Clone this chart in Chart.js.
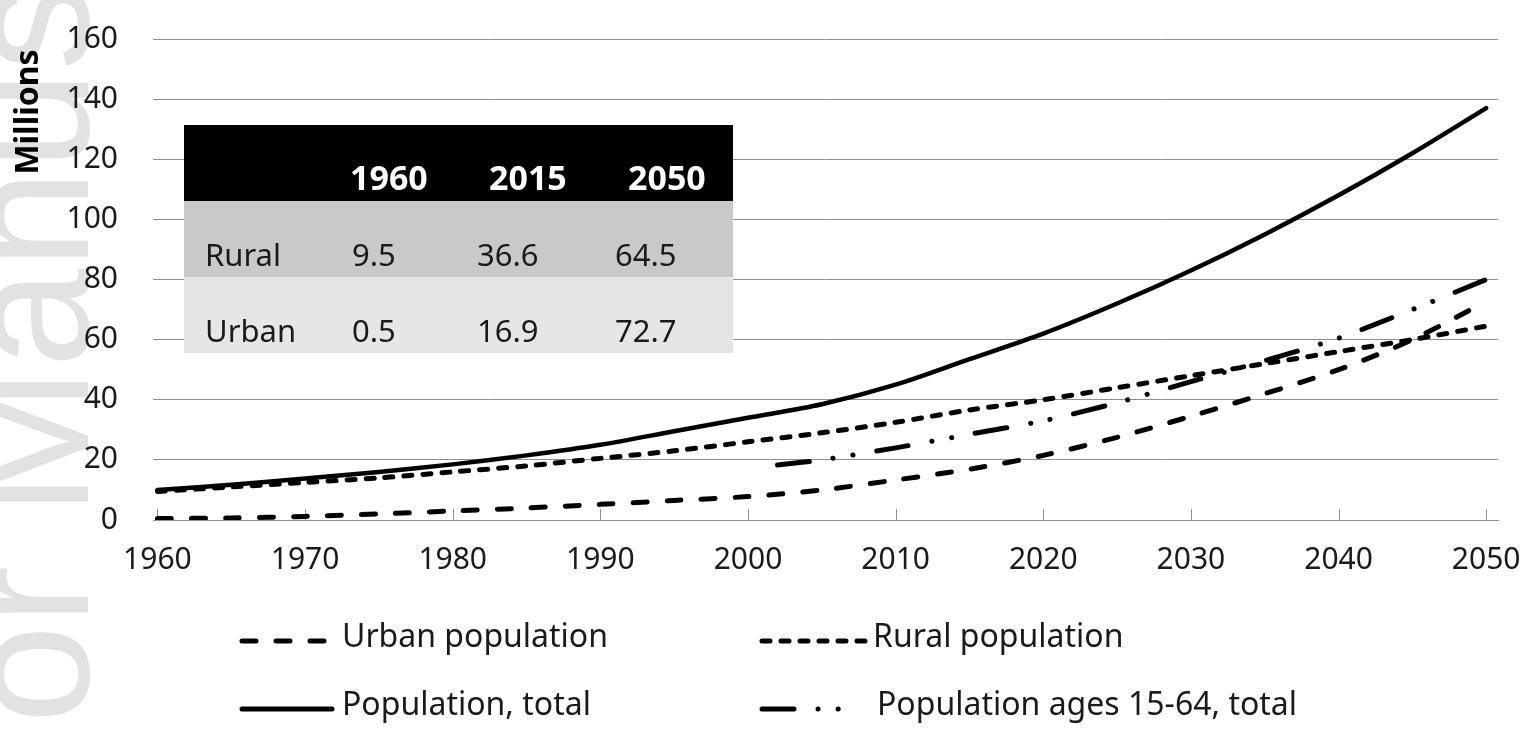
<!DOCTYPE html>
<html>
<head>
<meta charset="utf-8">
<script src="https://cdn.jsdelivr.net/npm/chart.js@4.4.1/dist/chart.umd.min.js"></script>
<style>
    body { margin: 0; background: #fff; }
    #wrap { position: relative; width: 1535px; height: 731px; overflow: hidden; }
</style>
</head>
<body>
<div id="wrap">
    <canvas id="popChart" width="1535" height="731"></canvas>
</div>
<script>
// values (millions)
const years = [1960, 1965, 1970, 1975, 1980, 1985, 1990, 1995, 2000, 2005, 2010, 2015, 2020, 2025, 2030, 2035, 2040, 2045, 2050];
const urbanPop = [0.5, 0.7, 1.2, 2.0, 3.0, 4.0, 5.2, 6.5, 7.8, 10.0, 13.3, 16.9, 21.5, 27.5, 34.5, 42.0, 50.0, 60.0, 72.7];
const ruralPop = [9.5, 11.0, 12.5, 14.0, 16.0, 18.0, 20.5, 23.0, 26.0, 29.0, 32.5, 36.6, 40.0, 44.0, 48.0, 52.0, 56.0, 60.0, 64.5];
const totalPop = [10.0, 11.7, 13.8, 16.0, 18.5, 21.5, 25.0, 29.5, 34.0, 38.5, 45.0, 53.5, 62.0, 72.0, 83.0, 95.0, 108.0, 122.0, 137.0];
const workYears = [2002, 2005, 2010, 2015, 2020, 2025, 2030, 2035, 2040, 2045, 2050];
const workingPop = [18.3, 20.0, 24.0, 28.5, 33.0, 39.0, 46.0, 53.0, 60.5, 70.0, 80.0];

const xTicks = [1960, 1970, 1980, 1990, 2000, 2010, 2020, 2030, 2040, 2050];
const yTicks = [0, 20, 40, 60, 80, 100, 120, 140, 160];

const tableYears = ['1960', '2015', '2050'];
const tableRowNames = ['Rural', 'Urban'];
const tableRural = ['9.5', '36.6', '64.5'];
const tableUrban = ['0.5', '16.9', '72.7'];

const seriesNames = ['Urban population', 'Rural population', 'Population, total', 'Population ages 15-64, total'];

const FONT = '"Noto Sans", sans-serif';
const GRID = '#8f8f8f';
const TEXT = '#1a1a1a';

function pts(xs, ys) {
    return xs.map(function(x, i) { return { x: x, y: ys[i] }; });
}

const dashStyles = [[14, 20], [8, 11], [], [32, 24, 0.1, 20, 0.1, 24]];
const widths = [5, 5, 4.5, 5];

function drawTable(ctx) {
    const left = 184, top = 125, w = 549, rowH = 76;
    const fills = ['#000000', '#c9c9c9', '#e6e6e6'];
    fills.forEach(function(f, i) {
        ctx.fillStyle = f;
        ctx.fillRect(left, top + i * rowH, w, rowH);
    });
    ctx.textBaseline = 'alphabetic';
    ctx.textAlign = 'left';
    // header
    ctx.fillStyle = '#fff';
    ctx.font = 'bold 34px ' + FONT;
    const headX = [350, 489, 628];
    tableYears.forEach(function(t, i) { ctx.fillText(t, headX[i], top + 65); });
    // body
    ctx.fillStyle = TEXT;
    ctx.font = '31px ' + FONT;
    const valX = [352, 477, 615];
    [tableRural, tableUrban].forEach(function(row, r) {
        const base = top + (r + 1) * rowH + 65;
        ctx.fillText(tableRowNames[r], 205, base);
        row.forEach(function(v, i) { ctx.fillText(v, valX[i], base); });
    });
}

const extras = {
    id: 'extras',
    beforeDraw(chart) {
        const ctx = chart.ctx;
        ctx.save();
        ctx.fillStyle = '#e2e2e2';
        ctx.font = '178px "Liberation Sans", sans-serif';
        ctx.translate(88, 1090);
        ctx.rotate(-Math.PI / 2);
        ctx.fillText('Author Manuscript', 0, 0);
        ctx.restore();
    },
    beforeDatasetsDraw(chart) {
        const ctx = chart.ctx, xs = chart.scales.x, a = chart.chartArea;
        ctx.save();
        ctx.strokeStyle = GRID;
        ctx.lineWidth = 1;
        xTicks.forEach(function(t) {
            const px = Math.round(xs.getPixelForValue(t)) + 0.5;
            ctx.beginPath();
            ctx.moveTo(px, a.bottom);
            ctx.lineTo(px, a.bottom - 11);
            ctx.stroke();
        });
        ctx.restore();
    },
    afterDraw(chart) {
        const ctx = chart.ctx;
        ctx.save();
        drawTable(ctx);
        ctx.restore();

        // axis title
        ctx.save();
        ctx.fillStyle = '#000';
        ctx.font = 'bold 32px ' + FONT;
        ctx.textAlign = 'center';
        ctx.textBaseline = 'middle';
        ctx.translate(29, 112);
        ctx.rotate(-Math.PI / 2);
        ctx.fillText('Millions', 0, 0);
        ctx.restore();

        // legend
        const lineX = [242, 762, 242, 762];
        const lens = [90, 108, 90, 82];
        const textX = [342, 873, 342, 877];
        const baseY = [647, 647, 715, 715];
        ctx.save();
        ctx.font = '32px ' + FONT;
        ctx.textBaseline = 'alphabetic';
        ctx.fillStyle = TEXT;
        seriesNames.forEach(function(name, i) {
            const ly = baseY[i] - 6;
            ctx.strokeStyle = '#000';
            ctx.lineWidth = 5;
            ctx.lineCap = 'round';
            ctx.setLineDash(dashStyles[i]);
            ctx.beginPath();
            ctx.moveTo(lineX[i], ly);
            ctx.lineTo(lineX[i] + lens[i], ly);
            ctx.stroke();
            ctx.setLineDash([]);
            ctx.fillText(name, textX[i], baseY[i]);
        });
        ctx.restore();
    }
};

function noPad(scale) {
    scale.paddingTop = 0;
    scale.paddingBottom = 0;
    scale.paddingLeft = 0;
    scale.paddingRight = 0;
}

const ctx = document.getElementById('popChart').getContext('2d');
new Chart(ctx, {
    type: 'line',
    data: {
        datasets: [
            { label: seriesNames[0], data: pts(years, urbanPop) },
            { label: seriesNames[1], data: pts(years, ruralPop) },
            { label: seriesNames[2], data: pts(years, totalPop) },
            { label: seriesNames[3], data: pts(workYears, workingPop) }
        ].map(function(d, i) {
            return Object.assign(d, {
                borderColor: '#000',
                borderWidth: widths[i],
                borderDash: dashStyles[i],
                borderCapStyle: 'round',
                pointRadius: 0,
                tension: 0.3,
                fill: false
            });
        })
    },
    options: {
        responsive: false,
        animation: false,
        devicePixelRatio: 1,
        layout: { padding: { left: 0, right: 37, top: 39, bottom: 151 } },
        plugins: {
            legend: { display: false },
            tooltip: { enabled: false }
        },
        scales: {
            x: {
                type: 'linear',
                min: 1959.7,
                max: 2050.8,
                afterBuildTicks: function(scale) {
                    scale.ticks = xTicks.map(function(v) { return { value: v }; });
                },
                afterFit: function(scale) { scale.height = 60; noPad(scale); },
                grid: { display: false, drawTicks: false },
                border: { display: true, color: GRID, width: 1 },
                ticks: {
                    color: TEXT,
                    font: { family: FONT, size: 30 },
                    padding: 22,
                    maxRotation: 0,
                    autoSkip: false,
                    callback: function(v) { return String(v); }
                }
            },
            y: {
                min: 0,
                max: 160,
                afterBuildTicks: function(scale) {
                    scale.ticks = yTicks.map(function(v) { return { value: v }; });
                },
                afterFit: function(scale) { scale.width = 153; noPad(scale); },
                grid: { color: GRID, lineWidth: 1, drawTicks: false },
                border: { display: false },
                ticks: {
                    color: TEXT,
                    font: { family: FONT, size: 30 },
                    padding: 35
                }
            }
        }
    },
    plugins: [extras]
});
</script>
</body>
</html>
